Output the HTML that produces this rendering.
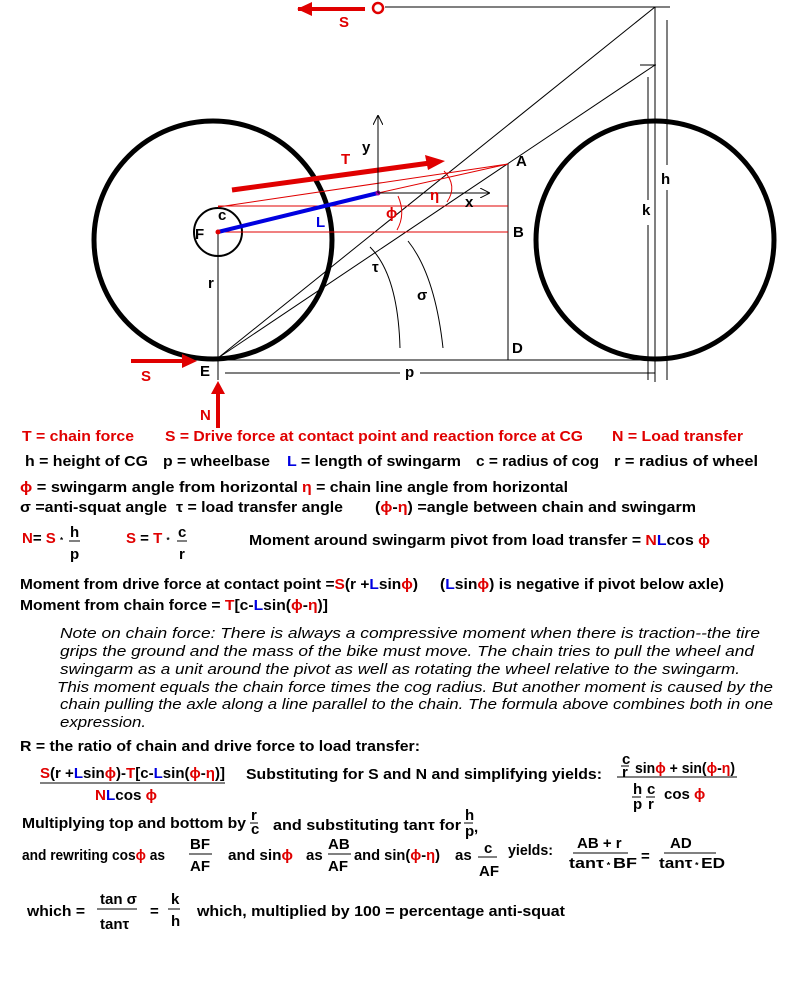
<!DOCTYPE html>
<html><head><meta charset="utf-8"><style>
html,body{margin:0;padding:0;background:#fff;}
svg{display:block;}
text{font-family:"Liberation Sans",Arial,sans-serif;font-weight:bold;font-size:15px;fill:#000;}
.r{fill:#e00000;} .b{fill:#0000e0;}
.it{font-style:italic;font-weight:normal;font-size:15px;}
</style></head><body>
<svg width="800" height="1000" viewBox="0 0 800 1000" xmlns="http://www.w3.org/2000/svg">
<defs>
<marker id="ah" markerWidth="10" markerHeight="10" refX="9" refY="5" orient="auto" markerUnits="userSpaceOnUse"><path d="M0,0 L10,5 L0,10" fill="none" stroke="#000" stroke-width="1"/></marker>
</defs>
<g fill="none">
<circle cx="213" cy="240" r="119" stroke="#000" stroke-width="5"/>
<circle cx="655" cy="240" r="119" stroke="#000" stroke-width="5"/>
<circle cx="218" cy="232" r="24" stroke="#000" stroke-width="2"/>
<line x1="218" y1="232" x2="218" y2="380" stroke="#000"/>
<line x1="218" y1="360" x2="655" y2="360" stroke="#000"/>
<line x1="225" y1="373" x2="400" y2="373" stroke="#000"/>
<line x1="420" y1="373" x2="655" y2="373" stroke="#000"/>
<line x1="508" y1="164" x2="508" y2="360" stroke="#000"/>
<line x1="655" y1="7" x2="655" y2="382" stroke="#000"/>
<line x1="385" y1="7" x2="670" y2="7" stroke="#000"/>
<line x1="640" y1="65" x2="656" y2="65" stroke="#000"/>
<line x1="667" y1="20" x2="667" y2="165" stroke="#000"/>
<line x1="667" y1="190" x2="667" y2="380" stroke="#000"/>
<line x1="648" y1="77" x2="648" y2="200" stroke="#000"/>
<line x1="648" y1="225" x2="648" y2="380" stroke="#000"/>
<line x1="218" y1="358" x2="655" y2="7" stroke="#000"/>
<line x1="218" y1="358" x2="655" y2="65" stroke="#000"/>
<line x1="218" y1="206" x2="508" y2="206" stroke="#e00000"/>
<line x1="218" y1="232" x2="508" y2="232" stroke="#e00000"/>
<line x1="218" y1="207" x2="508" y2="164" stroke="#e00000"/>
<line x1="378" y1="193" x2="508" y2="164" stroke="#e00000"/>
<line x1="232" y1="190" x2="430" y2="163" stroke="#e00000" stroke-width="5"/>
<polygon points="425,155 445,161 428,170" fill="#e00000"/>
<line x1="218" y1="232" x2="378" y2="193" stroke="#0000e0" stroke-width="4"/>
<circle cx="218" cy="232" r="2.5" fill="#e00000"/>
<circle cx="378" cy="193" r="2.5" fill="#a000a0"/>
<line x1="378" y1="193" x2="378" y2="116" stroke="#000" marker-end="url(#ah)"/>
<line x1="378" y1="193" x2="489" y2="193" stroke="#000" marker-end="url(#ah)"/>
<path d="M444,171 Q458,186 447,202" stroke="#e00000"/>
<path d="M398,196 Q406,214 397,230" stroke="#e00000"/>
<path d="M370,247 Q398,275 400,348" stroke="#000"/>
<path d="M408,241 Q435,275 443,348" stroke="#000"/>
<line x1="298" y1="9" x2="365" y2="9" stroke="#e00000" stroke-width="4"/>
<polygon points="297,9 312,2 312,16" fill="#e00000"/>
<circle cx="378" cy="8" r="5" stroke="#e00000" stroke-width="2.5"/>
<line x1="131" y1="361" x2="190" y2="361" stroke="#e00000" stroke-width="4"/>
<polygon points="197,361 182,354 182,368" fill="#e00000"/>
<line x1="218" y1="428" x2="218" y2="388" stroke="#e00000" stroke-width="4"/>
<polygon points="218,381 211,394 225,394" fill="#e00000"/>
</g>
<text x="339" y="27" class="r">S</text>
<text x="341" y="164" class="r">T</text>
<text x="362" y="152">y</text>
<text x="465" y="207">x</text>
<text x="430" y="200" class="r">η</text>
<text x="386" y="218" class="r">ϕ</text>
<text x="316" y="227" class="b">L</text>
<text x="195" y="239">F</text>
<text x="218" y="220">c</text>
<text x="208" y="288">r</text>
<text x="372" y="272" font-weight="normal">τ</text>
<text x="417" y="300" font-weight="normal">σ</text>
<text x="516" y="166">A</text>
<text x="513" y="237">B</text>
<text x="512" y="353">D</text>
<text x="661" y="184">h</text>
<text x="642" y="215">k</text>
<text x="200" y="376">E</text>
<text x="405" y="377">p</text>
<text x="141" y="381" class="r">S</text>
<text x="200" y="420" class="r">N</text>

<g lengthAdjust="spacingAndGlyphs">
<text x="22" y="441" class="r" textLength="112" lengthAdjust="spacingAndGlyphs">T = chain force</text>
<text x="165" y="441" class="r" textLength="418" lengthAdjust="spacingAndGlyphs">S = Drive force at contact point and reaction force at CG</text>
<text x="612" y="441" class="r" textLength="131" lengthAdjust="spacingAndGlyphs">N = Load transfer</text>
<text x="25" y="466" textLength="123" lengthAdjust="spacingAndGlyphs">h = height of CG</text>
<text x="163" y="466" textLength="107" lengthAdjust="spacingAndGlyphs">p = wheelbase</text>
<text x="287" y="466" textLength="174" lengthAdjust="spacingAndGlyphs"><tspan class="b">L</tspan> = length of swingarm</text>
<text x="476" y="466" textLength="123" lengthAdjust="spacingAndGlyphs">c = radius of cog</text>
<text x="614" y="466" textLength="144" lengthAdjust="spacingAndGlyphs">r = radius of wheel</text>
<text x="20" y="492" textLength="278" lengthAdjust="spacingAndGlyphs"><tspan class="r">ϕ</tspan> = swingarm angle from horizontal</text>
<text x="302" y="492" textLength="266" lengthAdjust="spacingAndGlyphs"><tspan class="r">η</tspan> = chain line angle from horizontal</text>
<text x="20" y="512" textLength="147" lengthAdjust="spacingAndGlyphs">σ =anti-squat angle</text>
<text x="176" y="512" textLength="167" lengthAdjust="spacingAndGlyphs">τ = load transfer angle</text>
<text x="375" y="512" textLength="321" lengthAdjust="spacingAndGlyphs">(<tspan class="r">ϕ</tspan>-<tspan class="r">η</tspan>) =angle between chain and swingarm</text>

<text x="22" y="543"><tspan class="r">N</tspan>= <tspan class="r">S</tspan> <tspan font-size="8">*</tspan></text>
<text x="70" y="537">h</text><line x1="69" y1="541" x2="80" y2="541" stroke="#000"/><text x="70" y="559">p</text>
<text x="126" y="543"><tspan class="r">S</tspan> = <tspan class="r">T</tspan> <tspan font-size="8">*</tspan></text>
<text x="178" y="537">c</text><line x1="177" y1="541" x2="187" y2="541" stroke="#000"/><text x="179" y="559">r</text>
<text x="249" y="545" textLength="461" lengthAdjust="spacingAndGlyphs">Moment around  swingarm pivot from load transfer = <tspan class="r">N</tspan><tspan class="b">L</tspan>cos <tspan class="r">ϕ</tspan></text>

<text x="20" y="589" textLength="398" lengthAdjust="spacingAndGlyphs">Moment from drive force at contact point =<tspan class="r">S</tspan>(r +<tspan class="b">L</tspan>sin<tspan class="r">ϕ</tspan>)</text>
<text x="440" y="589" textLength="284" lengthAdjust="spacingAndGlyphs">(<tspan class="b">L</tspan>sin<tspan class="r">ϕ</tspan>) is negative if pivot below axle)</text>
<text x="20" y="610" textLength="308" lengthAdjust="spacingAndGlyphs">Moment from chain force = <tspan class="r">T</tspan>[c-<tspan class="b">L</tspan>sin(<tspan class="r">ϕ</tspan>-<tspan class="r">η</tspan>)]</text>

<text x="60" y="638" class="it" textLength="700" lengthAdjust="spacingAndGlyphs">Note on chain force:  There is always a compressive moment when there is traction--the tire</text>
<text x="60" y="656" class="it" textLength="694" lengthAdjust="spacingAndGlyphs">grips the ground and the mass of the bike must move.  The chain tries to pull the wheel and</text>
<text x="60" y="674" class="it" textLength="680" lengthAdjust="spacingAndGlyphs">swingarm as a unit around the pivot as well as rotating the wheel relative to the swingarm.</text>
<text x="57" y="692" class="it" textLength="716" lengthAdjust="spacingAndGlyphs">This moment equals the chain force times the cog radius.  But another moment is caused by the</text>
<text x="60" y="709" class="it" textLength="713" lengthAdjust="spacingAndGlyphs">chain pulling the axle along a line parallel to the chain.  The formula above combines both in one</text>
<text x="60" y="727" class="it" textLength="86" lengthAdjust="spacingAndGlyphs">expression.</text>

<text x="20" y="751" textLength="400" lengthAdjust="spacingAndGlyphs">R = the ratio of chain and drive force to load transfer:</text>
<text x="40" y="778" textLength="185" lengthAdjust="spacingAndGlyphs"><tspan class="r">S</tspan>(r +<tspan class="b">L</tspan>sin<tspan class="r">ϕ</tspan>)-<tspan class="r">T</tspan>[c-<tspan class="b">L</tspan>sin(<tspan class="r">ϕ</tspan>-<tspan class="r">η</tspan>)]</text>
<line x1="40" y1="783" x2="225" y2="783" stroke="#000"/>
<text x="95" y="800" textLength="62" lengthAdjust="spacingAndGlyphs"><tspan class="r">N</tspan><tspan class="b">L</tspan>cos <tspan class="r">ϕ</tspan></text>
<text x="246" y="779" textLength="356" lengthAdjust="spacingAndGlyphs">Substituting for S and N and simplifying yields:</text>
<text x="622" y="764" font-size="13">c</text><line x1="621" y1="766" x2="629" y2="766" stroke="#000"/><text x="622" y="777" font-size="13">r</text>
<text x="635" y="773" textLength="100" lengthAdjust="spacingAndGlyphs">sin<tspan class="r">ϕ</tspan> + sin(<tspan class="r">ϕ</tspan>-<tspan class="r">η</tspan>)</text>
<line x1="617" y1="777" x2="737" y2="777" stroke="#000"/>
<text x="633" y="794" font-size="14">h</text><line x1="632" y1="797" x2="641" y2="797" stroke="#000"/><text x="633" y="809" font-size="14">p</text>
<text x="647" y="794" font-size="14">c</text><line x1="646" y1="797" x2="655" y2="797" stroke="#000"/><text x="648" y="809" font-size="14">r</text>
<text x="664" y="799" font-size="14">cos <tspan class="r">ϕ</tspan></text>

<text x="22" y="828" textLength="224" lengthAdjust="spacingAndGlyphs">Multiplying top and bottom by</text>
<text x="251" y="820" font-size="13">r</text><line x1="250" y1="823" x2="258" y2="823" stroke="#000"/><text x="251" y="834" font-size="13">c</text>
<text x="273" y="830" textLength="188" lengthAdjust="spacingAndGlyphs">and substituting  tanτ for</text>
<text x="465" y="820" font-size="14">h</text><line x1="464" y1="823" x2="473" y2="823" stroke="#000"/><text x="465" y="836" font-size="14">p</text><text x="474" y="832">,</text>
<text x="22" y="860" textLength="143" lengthAdjust="spacingAndGlyphs">and rewriting cos<tspan class="r">ϕ</tspan>  as</text>
<text x="190" y="849">BF</text><line x1="189" y1="854" x2="212" y2="854" stroke="#000"/><text x="190" y="871">AF</text>
<text x="228" y="860" textLength="65" lengthAdjust="spacingAndGlyphs">and sin<tspan class="r">ϕ</tspan></text>
<text x="306" y="860">as</text>
<text x="328" y="849">AB</text><line x1="328" y1="854" x2="351" y2="854" stroke="#000"/><text x="328" y="871">AF</text>
<text x="354" y="860" textLength="86" lengthAdjust="spacingAndGlyphs">and sin(<tspan class="r">ϕ</tspan>-<tspan class="r">η</tspan>)</text>
<text x="455" y="860">as</text>
<text x="484" y="853">c</text><line x1="478" y1="857" x2="497" y2="857" stroke="#000"/><text x="479" y="876">AF</text>
<text x="508" y="855" font-weight="normal" textLength="45" lengthAdjust="spacingAndGlyphs">yields:</text>
<text x="577" y="848">AB + r</text><line x1="573" y1="853" x2="628" y2="853" stroke="#000"/><text x="569" y="868" textLength="68" lengthAdjust="spacingAndGlyphs">tanτ<tspan font-size="8"> * </tspan>BF</text>
<text x="641" y="861">=</text>
<text x="670" y="848">AD</text><line x1="664" y1="853" x2="716" y2="853" stroke="#000"/><text x="659" y="868" textLength="66" lengthAdjust="spacingAndGlyphs">tanτ<tspan font-size="8"> * </tspan>ED</text>

<text x="27" y="916" textLength="58" lengthAdjust="spacingAndGlyphs">which =</text>
<text x="100" y="904">tan σ</text><line x1="97" y1="909" x2="137" y2="909" stroke="#000"/><text x="100" y="929">tanτ</text>
<text x="150" y="916">=</text>
<text x="171" y="904">k</text><line x1="168" y1="909" x2="180" y2="909" stroke="#000"/><text x="171" y="926">h</text>
<text x="197" y="916" textLength="368" lengthAdjust="spacingAndGlyphs">which, multiplied by 100 = percentage  anti-squat</text>
</g>
</svg>
</body></html>
